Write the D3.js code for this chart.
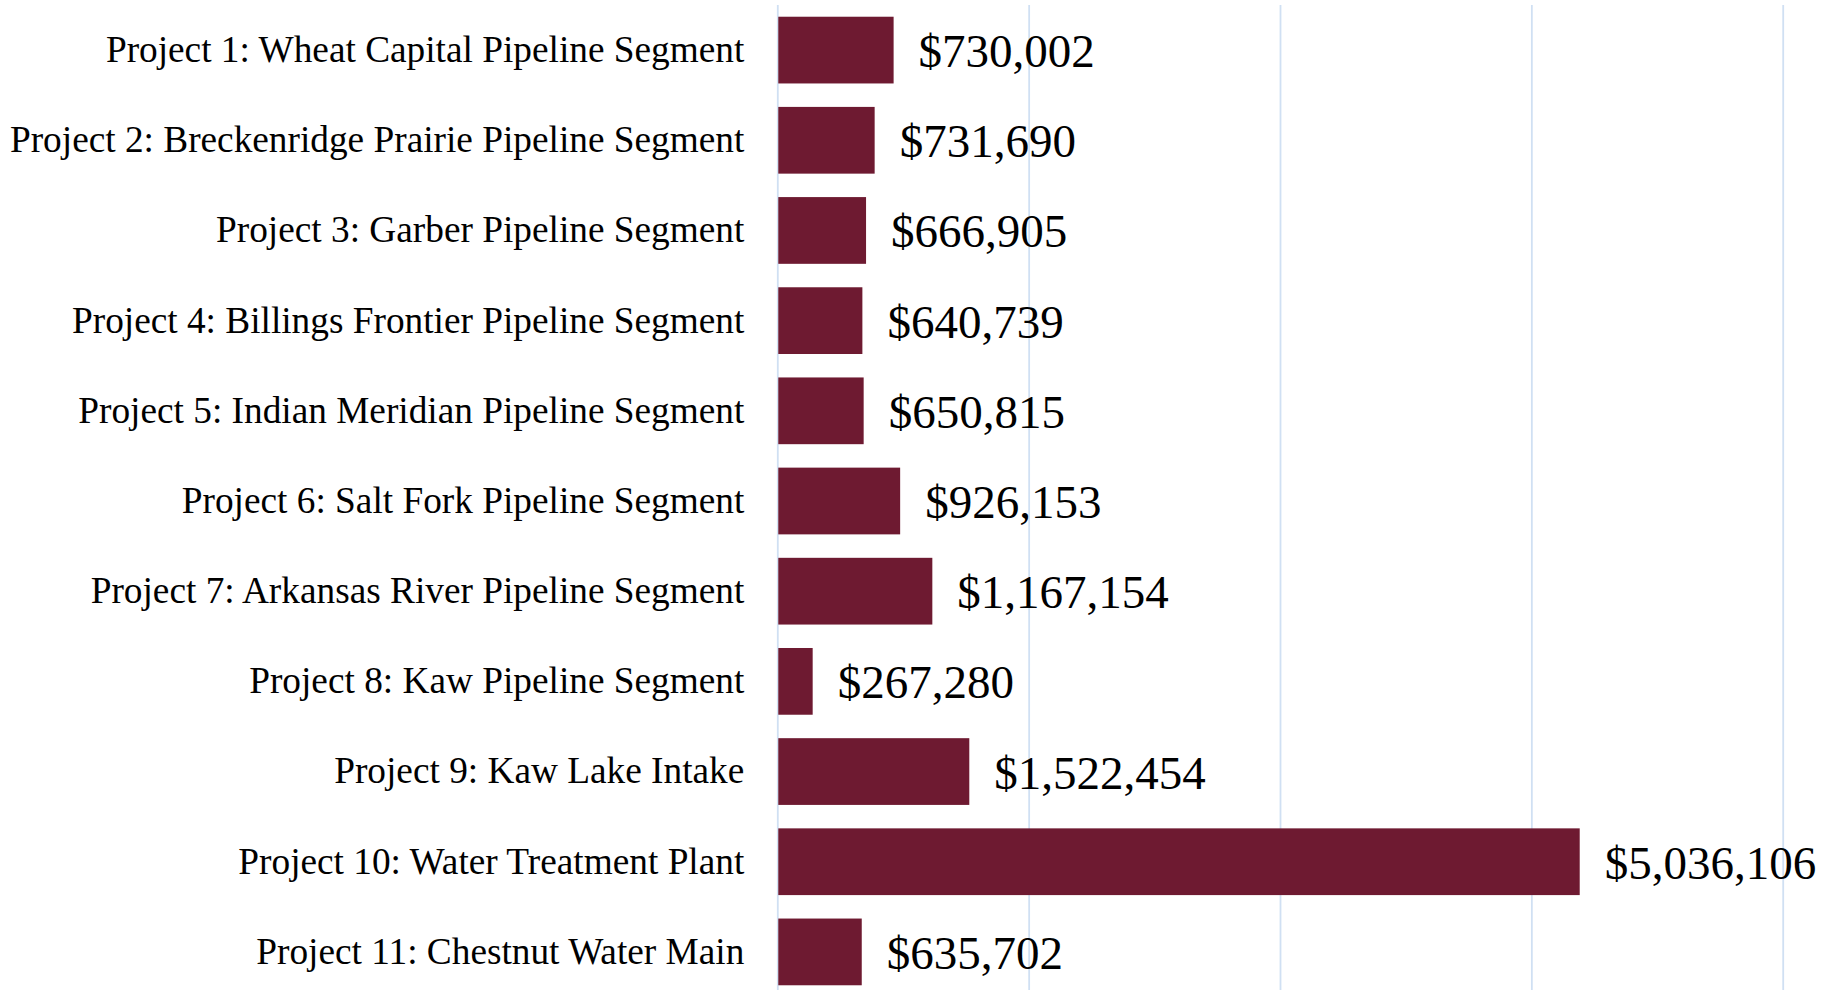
<!DOCTYPE html>
<html>
<head>
<meta charset="utf-8">
<script src="https://cdn.jsdelivr.net/npm/d3@7"></script>
<style>
  body { margin: 0; background: #fff; }
  svg { display: block; }
</style>
</head>
<body>
<div id="chart"></div>
<script>
// Data
const projects = [
    "Project 1: Wheat Capital Pipeline Segment",
    "Project 2: Breckenridge Prairie Pipeline Segment",
    "Project 3: Garber Pipeline Segment",
    "Project 4: Billings Frontier Pipeline Segment",
    "Project 5: Indian Meridian Pipeline Segment",
    "Project 6: Salt Fork Pipeline Segment",
    "Project 7: Arkansas River Pipeline Segment",
    "Project 8: Kaw Pipeline Segment",
    "Project 9: Kaw Lake Intake",
    "Project 10: Water Treatment Plant",
    "Project 11: Chestnut Water Main"
];
// bar lengths as drawn
const barValues = [730000, 611000, 557000, 534000, 542000, 771000, 973000, 222000, 1205000, 5036000, 530000];
// printed cost labels
const costs = [730002, 731690, 666905, 640739, 650815, 926153, 1167154, 267280, 1522454, 5036106, 635702];
// gridline positions
const gridTicks = [0, 1577500, 3155000, 4732500, 6310000];

const W = 1839, H = 990;
const left = 777.3, right = 1782.7;

const svg = d3.select("#chart")
    .append("svg")
    .attr("width", W)
    .attr("height", H);

const x = d3.scaleLinear()
    .domain([0, 6310000])
    .range([left, right]);

const y = d3.scaleBand()
    .domain(projects)
    .range([5, 997])
    .paddingInner(0.26)
    .paddingOuter(0.13);

// vertical gridlines
const grid = svg.append("g")
    .attr("transform", "translate(0," + H + ")")
    .call(d3.axisBottom(x).tickValues(gridTicks).tickSize(-(H - 5)).tickFormat(""));
grid.select(".domain").remove();
grid.selectAll("line")
    .attr("stroke", "#d0e0f3")
    .attr("stroke-width", 1.8);

// bars
svg.selectAll(".bar")
    .data(projects)
    .enter()
    .append("rect")
    .attr("class", "bar")
    .attr("x", x(0) + 1)
    .attr("y", d => y(d))
    .attr("width", (d, i) => x(barValues[i]) - x(0) - 1)
    .attr("height", y.bandwidth())
    .attr("fill", "#6e1a31");

// category labels
const yAxis = svg.append("g")
    .attr("transform", "translate(" + left + ",0)")
    .call(d3.axisLeft(y).tickSize(0).tickPadding(33));
yAxis.select(".domain").remove();
yAxis.selectAll("text")
    .style("font-family", "'Liberation Serif', 'Times New Roman', serif")
    .style("font-size", "37.3px")
    .attr("fill", "#000");

// value labels
const fmt = d3.format("$,");
svg.selectAll(".label")
    .data(projects)
    .enter()
    .append("text")
    .attr("class", "label")
    .attr("x", (d, i) => x(barValues[i]) + 25)
    .attr("y", d => y(d) + y.bandwidth() / 2 + 17)
    .style("font-family", "'Liberation Serif', 'Times New Roman', serif")
    .style("font-size", "47px")
    .attr("fill", "#000")
    .text((d, i) => fmt(costs[i]));
</script>
</body>
</html>
